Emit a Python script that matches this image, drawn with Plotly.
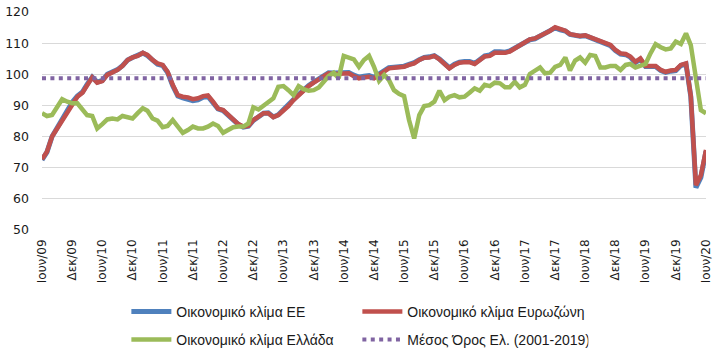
import pandas as pd
import plotly.graph_objects as go

# Monthly observations: Jun 2009 .. Jun 2020
months = pd.date_range("2009-06-01", "2020-06-01", freq="MS")

tick_labels = ["Ιουν/09", "Δεκ/09", "Ιουν/10", "Δεκ/10", "Ιουν/11", "Δεκ/11",
               "Ιουν/12", "Δεκ/12", "Ιουν/13", "Δεκ/13", "Ιουν/14", "Δεκ/14",
               "Ιουν/15", "Δεκ/15", "Ιουν/16", "Δεκ/16", "Ιουν/17", "Δεκ/17",
               "Ιουν/18", "Δεκ/18", "Ιουν/19", "Δεκ/19", "Ιουν/20"]

esi_eu = [72.5, 75.0, 80.0, 82.8, 85.5, 88.2, 91.0, 93.0, 94.3, 96.8,
          99.1, 97.5, 98.0, 100.0, 100.7, 101.5, 102.8, 104.6, 105.4, 105.9,
          106.8, 106.0, 104.3, 103.2, 102.8, 100.6, 96.3, 93.0, 92.4, 92.0,
          91.5, 91.8, 92.6, 92.9, 91.0, 88.9, 88.3, 86.8, 85.2, 83.9,
          83.0, 83.3, 85.2, 86.6, 87.5, 87.6, 86.3, 87.0, 88.5, 90.0,
          91.9, 93.5, 95.1, 96.4, 97.5, 98.6, 99.6, 100.5, 100.4, 100.4,
          100.6, 100.6, 99.7, 99.1, 99.4, 99.6, 99.0, 100.0, 101.4, 102.1,
          102.3, 102.4, 102.6, 103.2, 103.7, 104.7, 105.4, 105.6, 106.0, 104.9,
          103.4, 102.1, 103.2, 103.9, 104.1, 104.1, 103.5, 104.8, 105.9, 106.2,
          107.2, 107.2, 107.1, 107.5, 108.4, 109.0, 110.2, 111.1, 111.4, 112.2,
          113.2, 113.9, 114.9, 114.3, 113.9, 112.8, 112.5, 112.2, 112.4, 111.8,
          111.3, 110.8, 110.0, 109.2, 107.6, 106.5, 106.3, 105.5, 103.8, 104.8,
          102.5, 102.5, 102.5, 101.2, 100.6, 101.0, 101.2, 102.8, 103.3, 92.8,
          63.6, 66.9, 75.3]

esi_ea = [72.7, 75.1, 80.0, 82.6, 85.3, 88.0, 90.7, 92.8, 94.1, 96.6,
          99.0, 97.3, 97.8, 99.8, 100.5, 101.4, 102.7, 104.6, 105.4, 105.9,
          106.9, 106.2, 104.6, 103.5, 103.0, 100.8, 96.6, 93.3, 92.8, 92.6,
          92.0, 92.3, 93.0, 93.2, 91.2, 89.0, 88.5, 86.9, 85.3, 84.0,
          83.2, 83.4, 85.3, 86.6, 87.5, 87.5, 86.2, 86.9, 88.3, 89.8,
          91.7, 93.3, 94.9, 96.2, 97.3, 98.4, 99.4, 100.3, 100.1, 100.1,
          100.3, 100.3, 99.4, 98.7, 99.0, 99.2, 98.7, 99.8, 101.2, 101.9,
          102.1, 102.2, 102.4, 103.0, 103.5, 104.6, 105.3, 105.4, 105.9, 104.8,
          103.3, 101.9, 103.0, 103.7, 103.9, 103.9, 103.3, 104.6, 105.7, 105.9,
          106.9, 106.9, 106.9, 107.3, 108.3, 108.9, 110.2, 111.2, 111.5, 112.3,
          113.4, 114.0, 115.1, 114.4, 114.0, 112.9, 112.6, 112.3, 112.5, 111.9,
          111.5, 111.0, 110.2, 109.4, 107.8, 106.7, 106.5, 105.7, 104.0, 105.1,
          102.7, 102.7, 102.7, 101.4, 100.8, 101.2, 101.4, 103.0, 103.5, 93.0,
          64.4, 67.6, 75.7]

esi_gr = [87.5, 86.6, 86.9, 89.6, 92.0, 91.2, 90.7, 90.7, 88.5, 86.9,
          86.6, 82.6, 84.0, 85.5, 85.8, 85.5, 86.6, 86.2, 85.8, 87.5,
          89.1, 88.3, 85.8, 85.1, 83.0, 83.4, 85.3, 83.2, 81.2, 82.1,
          83.2, 82.6, 82.6, 83.2, 84.2, 83.4, 81.2, 82.1, 83.0, 83.2,
          83.2, 84.2, 89.4, 88.7, 90.1, 91.2, 92.3, 96.0, 96.2, 94.9,
          93.3, 96.2, 95.2, 94.7, 94.9, 95.8, 97.6, 99.4, 100.5, 98.7,
          105.9, 105.4, 104.8, 102.4, 104.6, 105.9, 102.4, 97.9, 99.8, 98.2,
          94.9, 93.7, 93.0, 85.3, 79.4, 86.9, 89.8, 90.1, 91.2, 94.7,
          91.7, 92.8, 93.3, 92.6, 92.8, 94.1, 95.5, 94.7, 96.6, 96.2,
          97.3, 97.1, 95.8, 95.8, 97.6, 95.8, 96.6, 100.1, 101.2, 102.2,
          100.3, 100.5, 102.4, 103.0, 105.4, 101.2, 104.4, 105.4, 103.7, 106.2,
          105.9, 102.2, 102.2, 102.7, 102.7, 101.4, 103.0, 103.3, 102.2, 102.7,
          103.3, 106.7, 109.7, 108.7, 108.0, 108.3, 110.5, 109.7, 113.1, 109.4,
          99.2, 88.5, 87.5]

mean_gr_2001_2019 = 98.7

names = ["Οικονομικό κλίμα ΕΕ", "Οικονομικό κλίμα Ευρωζώνη",
         "Οικονομικό κλίμα Ελλάδα", "Μέσος Όρος Ελ. (2001-2019)"]

fig = go.Figure()
fig.add_trace(go.Scatter(x=months, y=esi_eu, name=names[0], mode="lines",
                         line=dict(color="#4F81BD", width=5), legend="legend"))
fig.add_trace(go.Scatter(x=months, y=esi_ea, name=names[1], mode="lines",
                         line=dict(color="#C0504D", width=4.5), legend="legend"))
fig.add_trace(go.Scatter(x=months, y=esi_gr, name=names[2], mode="lines",
                         line=dict(color="#9BBB59", width=4.5), legend="legend2"))
fig.add_trace(go.Scatter(x=[months[0], months[-1]],
                         y=[mean_gr_2001_2019, mean_gr_2001_2019],
                         name=names[3], mode="lines",
                         line=dict(color="#8064A2", width=4, dash="4px,4.4px"),
                         legend="legend2"))

legend_common = dict(orientation="h", xref="container", yref="container",
                     xanchor="left", yanchor="middle", x=0.176,
                     entrywidth=176, entrywidthmode="pixels", itemwidth=40,
                     bgcolor="rgba(0,0,0,0)",
                     font=dict(family="Liberation Sans, Arial, sans-serif",
                               size=14, color="#1a1a1a"))

fig.update_layout(
    width=718, height=358,
    margin=dict(l=42, r=12, t=12, b=128),
    paper_bgcolor="white", plot_bgcolor="white",
    showlegend=True,
    legend=dict(legend_common, y=1 - 312 / 358),
    legend2=dict(legend_common, y=1 - 340 / 358),
    font=dict(family="DejaVu Sans, Verdana, sans-serif", color="#1a1a1a"),
)

fig.update_xaxes(
    range=[months[0], months[-1]], automargin=False,
    tickvals=list(months[::6]), ticktext=tick_labels,
    tickangle=-90, ticks="", showgrid=False, zeroline=False, showline=False,
    ticklabelstandoff=6,
    tickfont=dict(family="DejaVu Sans, Verdana, sans-serif", size=12, color="#1a1a1a"),
)
fig.update_yaxes(
    range=[50, 120], dtick=10, tick0=50, automargin=False,
    showgrid=True, gridcolor="#D9D9D9", gridwidth=1,
    zeroline=False, showline=False, ticks="",
    ticklabelstandoff=12,
    tickfont=dict(family="DejaVu Sans, Verdana, sans-serif", size=12.5, color="#1a1a1a"),
)

fig.write_html("out.html", config={"displayModeBar": False},
               post_script="document.body.style.margin='0';")
